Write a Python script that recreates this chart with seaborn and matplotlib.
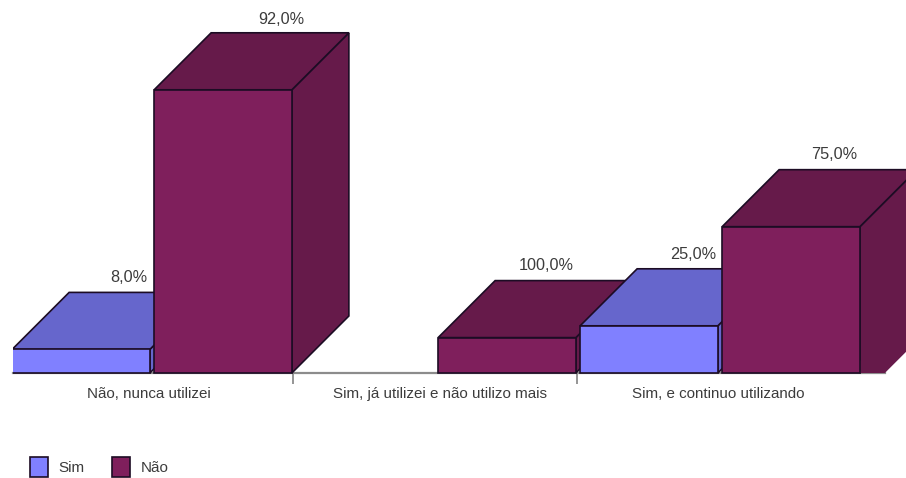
import matplotlib
matplotlib.use("Agg")
import matplotlib.pyplot as plt
from matplotlib.patches import Polygon
from matplotlib.transforms import ScaledTranslation
import pandas as pd
import seaborn as sns

categories = ["Não, nunca utilizei", "Sim, já utilizei e não utilizo mais", "Sim, e continuo utilizando"]
sim_values = [2, 0, 4]
nao_values = [24, 3, 12.4]
sim_labels = ["8,0%", "", "25,0%"]
nao_labels = ["92,0%", "100,0%", "75,0%"]

FRONT = {"Sim": "#8080FF", "Não": "#7F1F5C"}
SHADE = {"Sim": "#6666CC", "Não": "#661A4A"}
EDGE = "#1C0C24"
TEXT = "#3C3C3C"
AXIS = "#8C8C8C"

W, H = 906, 478
PX_PER_CAT = 284.0
PX_PER_UNIT = 11.8
X0_PX, BASE_PX = 152.0, 373.0
DEPTH_X = 57 / PX_PER_CAT
DEPTH_Y = 57 / PX_PER_UNIT

sns.set_theme(style="white")
plt.rcParams["font.family"] = ["Liberation Sans", "DejaVu Sans"]

df = pd.DataFrame({
    "categoria": categories * 2,
    "resposta": ["Sim"] * 3 + ["Não"] * 3,
    "valor": sim_values + nao_values,
    "rotulo": sim_labels + nao_labels,
})

fig = plt.figure(figsize=(W / 100, H / 100), dpi=100)
ax = fig.add_axes([0, 0, 1, 1])
sns.barplot(data=df, x="categoria", y="valor", hue="resposta", hue_order=["Sim", "Não"],
            palette=FRONT, width=1.0, gap=0.03, edgecolor=EDGE, linewidth=1.2,
            saturation=1, ax=ax, order=categories)

ax.set_xlim(-X0_PX / PX_PER_CAT, (W - X0_PX) / PX_PER_CAT)
ax.set_ylim(-(H - BASE_PX) / PX_PER_UNIT, BASE_PX / PX_PER_UNIT)

# Extrude each bar: top and side faces follow the bar's own rectangle.
# Horizontal and vertical nudges (pixels) place the percent text above the back edge.
nudges = {"8,0%": (-9, 15), "92,0%": (1, 13), "100,0%": (-18, 15), "25,0%": (-13, 14), "75,0%": (-14, 15)}
bars = []
for container, name in zip(ax.containers, ["Sim", "Não"]):
    for rect, cat in zip(container, categories):
        bars.append((rect, name, cat))
bars.sort(key=lambda b: b[0].get_x())

z = 3
clip = plt.Rectangle((13 / W, 0), (W - 13) / W, 1, transform=ax.transAxes)
for rect, name, cat in bars:
    h = rect.get_height()
    if not h:
        rect.set_visible(False)
        continue
    x0, x1 = rect.get_x(), rect.get_x() + rect.get_width()
    side = Polygon([(x1, 0), (x1 + DEPTH_X, DEPTH_Y), (x1 + DEPTH_X, h + DEPTH_Y), (x1, h)],
                   facecolor=SHADE[name], edgecolor=EDGE, linewidth=1.2, zorder=z)
    top = Polygon([(x0, h), (x1, h), (x1 + DEPTH_X, h + DEPTH_Y), (x0 + DEPTH_X, h + DEPTH_Y)],
                  facecolor=SHADE[name], edgecolor=EDGE, linewidth=1.2, zorder=z)
    ax.add_patch(side)
    ax.add_patch(top)
    rect.set_zorder(z + 0.5)
    rect.set_clip_path(clip)
    top.set_clip_path(clip)
    side.set_clip_path(clip)
    label = df[(df.categoria == cat) & (df.resposta == name)].rotulo.iloc[0]
    nx, ny = nudges[label]
    ax.text((x0 + x1) / 2 + DEPTH_X + nx / PX_PER_CAT, h + DEPTH_Y + ny / PX_PER_UNIT, label,
            ha="center", va="center", fontsize=11.7, color=TEXT, zorder=20)
    z += 1

# The last bar's side face runs on along the floor before meeting the plot edge;
# the patch overlaps the side face so its lower edge is hidden.
last_rect = bars[-1][0]
x1 = last_rect.get_x() + last_rect.get_width()
skirt = 25 / PX_PER_CAT
overlap = 12 / PX_PER_UNIT
ax.add_patch(Polygon([(x1, overlap), (x1, 0), (x1 + skirt, 0), (x1 + skirt + DEPTH_X, DEPTH_Y),
                      (x1 + DEPTH_X, DEPTH_Y + overlap)],
                     facecolor=SHADE["Não"], edgecolor="none", zorder=z))
last_rect.set_zorder(z + 1)

# Baseline with separators between the categories.
for s in ["top", "left", "right"]:
    ax.spines[s].set_visible(False)
ax.spines["bottom"].set_position(("data", 0))
ax.spines["bottom"].set_color(AXIS)
ax.spines["bottom"].set_linewidth(1.6)
ax.spines["bottom"].set_bounds(13 / PX_PER_CAT + ax.get_xlim()[0], 885 / PX_PER_CAT + ax.get_xlim()[0])
ax.spines["bottom"].set_zorder(2)
ax.set_xlabel("")
ax.set_ylabel("")
ax.set_yticks([])
ax.set_xticks([0, 1, 2], categories)
ax.set_xticks([0.5 - 1 / PX_PER_CAT, 1.5 - 1 / PX_PER_CAT], minor=True)
ax.tick_params(axis="x", which="major", length=0, pad=10, labelsize=10.9, labelcolor=TEXT)
ax.tick_params(axis="x", which="minor", length=8, width=1.3, color=AXIS, direction="out", bottom=True)

# Small horizontal shifts of the category captions, in pixels.
for tick_label, dx in zip(ax.get_xticklabels(), [-3, 4, -2]):
    tick_label.set_transform(tick_label.get_transform() + ScaledTranslation(dx / 100, 0, fig.dpi_scale_trans))

sns.move_legend(ax, "lower left", bbox_to_anchor=(30 / W, 1 / H), ncol=2, frameon=False, title=None,
                fontsize=11, handlelength=1.2, handleheight=1.6, columnspacing=1.75, handletextpad=0.68,
                labelcolor=TEXT, borderaxespad=0, borderpad=0)

fig.savefig("out.png", dpi=100, facecolor="white")
